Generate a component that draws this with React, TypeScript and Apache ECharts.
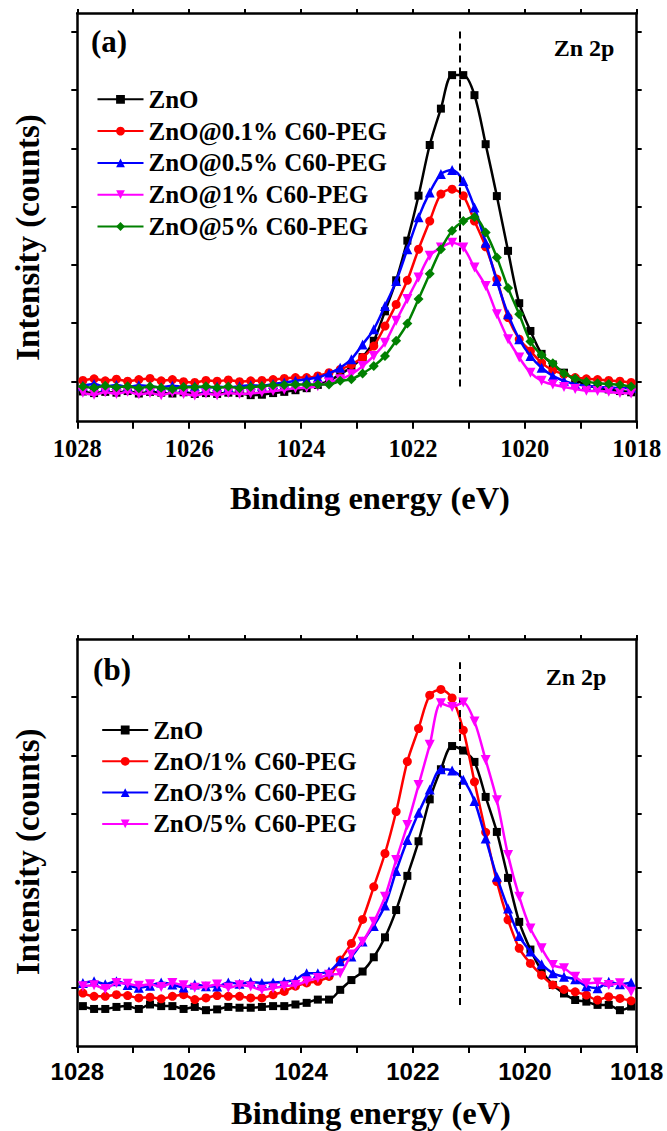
import React, { useEffect, useRef } from "react";
import * as echarts from "echarts";

// Binding energy grid (eV), 0.2 eV steps
const energies = [
  1027.9, 1027.7, 1027.5, 1027.3, 1027.1, 1026.9, 1026.7, 1026.5, 1026.3, 1026.1,
  1025.9, 1025.7, 1025.5, 1025.3, 1025.1, 1024.9, 1024.7, 1024.5, 1024.3, 1024.1,
  1023.9, 1023.7, 1023.5, 1023.3, 1023.1, 1022.9, 1022.7, 1022.5, 1022.3, 1022.1,
  1021.9, 1021.7, 1021.5, 1021.3, 1021.1, 1020.9, 1020.7, 1020.5, 1020.3, 1020.1,
  1019.9, 1019.7, 1019.5, 1019.3, 1019.1, 1018.9, 1018.7, 1018.5, 1018.3, 1018.1,
];

// Panel (a) intensities (arbitrary units, 0 = bottom of frame, 100 = top)
const namesA = ["ZnO", "ZnO@0.1% C60-PEG", "ZnO@0.5% C60-PEG", "ZnO@1% C60-PEG", "ZnO@5% C60-PEG"];
const znoA = [7.4,7.0,7.3,7.1,7.5,6.9,7.3,7.1,6.9,7.2, 6.8,7.0,6.8,7.1,7.0,6.5,6.6,7.0,7.3,7.7, 8.2,9.0,10.0,11.6,13.4,15.8,19.8,27.0,34.6,44.3, 55.3,67.7,76.6,84.8,84.8,79.9,67.9,55.2,41.8,29.0, 22.2,16.6,14.0,12.0,10.3,9.0,8.3,7.9,7.5,7.2];
const c01A = [10.1,10.5,10.0,10.4,9.9,10.3,10.6,10.0,10.3,9.8, 9.6,10.1,9.9,10.2,9.8,10.0,10.1,10.3,10.6,10.8, 10.8,11.2,12.0,12.8,14.0,15.7,18.5,23.4,28.7,34.6, 42.2,49.1,55.7,56.9,55.3,49.1,42.8,34.9,25.5,20.2, 17.3,14.4,12.6,11.6,10.8,10.5,10.3,10.1,9.9,9.6];
const c05A = [8.8,9.2,8.6,9.0,8.5,8.9,8.7,8.4,8.8,8.5, 8.7,8.3,8.6,8.4,8.7,8.9,8.8,9.2,9.6,10.0, 10.4,10.8,11.8,13.2,15.3,18.9,22.6,28.3,34.4,42.2, 50.0,56.1,60.6,61.6,58.9,52.4,43.8,34.4,26.3,20.2, 16.1,13.2,11.2,10.0,9.2,8.8,8.5,8.4,8.2,8.3];
const c1A = [7.1,6.6,7.2,6.8,7.3,6.7,7.0,6.5,7.1,6.8, 6.4,6.9,6.5,7.0,6.8,6.9,7.2,7.5,7.8,8.2, 8.3,8.7,9.6,10.4,11.6,13.6,16.1,19.3,24.7,30.0, 35.3,40.6,42.6,43.8,42.6,37.7,33.2,26.3,20.2,15.7, 12.0,10.0,9.1,8.5,8.0,7.6,7.5,7.3,7.0,6.9];
const c5A = [8.6,8.3,8.8,8.4,8.7,8.2,8.6,8.3,8.0,8.5, 8.4,8.7,8.3,8.6,8.2,8.5,8.7,8.9,9.0,9.1, 9.1,9.1,9.1,10.0,10.4,11.8,13.6,16.1,19.8,24.0, 30.0,36.2,42.2,46.7,49.1,50.1,46.3,40.2,32.7,26.3, 19.6,16.3,14.3,11.8,10.6,9.8,9.4,9.2,9.0,8.6];

// Panel (b) intensities
const namesB = ["ZnO", "ZnO/1% C60-PEG", "ZnO/3% C60-PEG", "ZnO/5% C60-PEG"];
const znoB = [9.8,9.1,9.1,9.6,9.8,9.1,10.2,9.8,9.8,9.1, 9.6,8.8,9.0,9.6,9.4,9.4,9.6,9.8,9.8,10.2, 10.6,11.4,11.4,13.8,16.2,18.3,21.8,26.7,33.4,41.8, 50.3,60.6,68.0,73.7,72.6,69.8,61.2,52.6,41.3,30.5, 23.7,18.5,15.0,12.9,11.3,10.9,10.1,10.1,8.8,9.7];
const c1B = [13.0,12.2,12.2,12.6,12.4,11.8,12.0,11.6,12.2,12.6, 11.4,11.8,12.4,12.2,12.2,11.8,11.8,12.6,13.4,14.7, 15.5,15.9,17.1,21.1,25.2,31.1,39.1,47.3,57.6,69.9, 78.0,86.2,87.6,85.5,77.6,64.9,52.5,40.4,31.0,24.0, 20.3,17.4,15.0,13.9,13.3,12.5,11.3,12.1,11.7,11.1];
const c3B = [15.5,15.9,15.2,15.9,15.0,14.3,14.8,15.6,15.1,14.4, 15.1,14.7,14.6,15.6,15.3,15.7,15.5,15.6,15.8,16.3, 17.9,17.9,18.3,20.8,22.0,25.7,29.5,34.5,43.0,50.6, 57.3,63.0,68.0,67.7,65.4,60.2,51.0,41.6,33.8,27.0, 23.2,20.1,17.9,17.0,16.4,14.7,14.2,15.8,15.2,15.6];
const c5B = [14.7,14.9,14.0,15.5,15.3,14.8,15.2,14.5,15.5,14.9, 14.3,14.6,15.1,14.3,14.9,14.6,13.8,14.2,14.7,15.0, 15.9,16.7,17.5,17.9,22.5,25.6,30.5,36.7,45.7,54.3, 64.1,74.0,84.2,83.3,84.4,79.7,70.3,60.4,46.9,36.7, 28.9,24.0,19.9,19.1,17.0,15.4,15.6,15.0,15.4,13.3];

// Axis ticks / labels
const xLabelValues = [1028, 1026, 1024, 1022, 1020, 1018];
const yTicksA = [9.8, 24.1, 38.3, 52.6, 66.9, 81.2, 95.4];
const yTicksB = [14.3, 28.6, 42.9, 57.1, 71.4, 85.7];

// Reference (dashed) line
const refEnergy = 1021.17;
const refRangeA = [8.6, 96.6];
const refRangeB = [10.1, 94.3];

const colors = ["#000000", "#ff0000", "#0000ff", "#ff00ff", "#008000"];
const symbols = ["rect", "circle", "triangle", "triangle", "diamond"];
const symbolSizes = [8, 9, 10, 10, 10];
const symbolRotates = [0, 0, 0, 180, 0];

const SERIF = '"Liberation Serif", "Times New Roman", serif';
const SANS = '"Liberation Sans", Arial, sans-serif';

function buildOption(cfg: any) {
  const series = cfg.names.map((name: string, k: number) => {
    const s: any = {
      type: "line",
      name,
      data: energies.map((e, i) => [e, cfg.values[k][i]]),
      symbol: symbols[k],
      symbolSize: symbolSizes[k],
      symbolRotate: symbolRotates[k],
      smooth: 0.3,
      color: colors[k],
      lineStyle: { width: 2.5, color: colors[k] },
      itemStyle: { color: colors[k] },
      z: 2 + k,
    };
    if (k === 0) {
      s.markLine = {
        silent: true,
        symbol: ["none", "none"],
        label: { show: false },
        lineStyle: { color: "#000", width: 2, type: [7, 5] },
        data: [[{ coord: [refEnergy, cfg.refRange[0]] }, { coord: [refEnergy, cfg.refRange[1]] }]],
      };
    }
    return s;
  });

  const axisLine = { show: true, onZero: false, lineStyle: { color: "#000", width: 2.5 } };
  const tickStyle = { color: "#000", width: 2 };
  const xBase = {
    type: "value",
    min: 1018,
    max: 1028,
    interval: 1,
    inverse: true,
    splitLine: { show: false },
    axisLine,
  };
  const yBase = {
    type: "value",
    min: 0,
    max: 100,
    splitLine: { show: false },
    axisLine,
    axisLabel: { show: false },
  };

  return {
    animation: false,
    backgroundColor: "#ffffff",
    grid: { left: 77.3, top: cfg.gridTop, width: 559.4, height: cfg.gridHeight, containLabel: false },
    xAxis: [
      {
        ...xBase,
        position: "bottom",
        axisTick: { show: true, inside: false, length: 7, lineStyle: tickStyle },
        axisLabel: {
          show: true,
          customValues: xLabelValues,
          formatter: (v: number) => String(Math.round(v)),
          margin: cfg.labelMargin,
          color: "#000",
          fontSize: cfg.tickFontSize,
          fontWeight: "bold",
          fontFamily: cfg.tickFont,
        },
      },
      {
        ...xBase,
        position: "top",
        axisTick: { show: true, inside: false, length: 4, lineStyle: tickStyle },
        axisLabel: { show: false },
      },
    ],
    yAxis: [
      {
        ...yBase,
        position: "left",
        axisTick: { show: true, inside: false, length: 6, customValues: cfg.yTicks, lineStyle: tickStyle },
      },
      {
        ...yBase,
        position: "right",
        axisTick: { show: true, inside: false, length: 5, customValues: cfg.yTicks, lineStyle: tickStyle },
      },
    ],
    legend: {
      show: true,
      orient: "vertical",
      left: cfg.legendLeft,
      top: cfg.legendTop,
      padding: 0,
      itemWidth: 46,
      itemHeight: 11,
      itemGap: cfg.legendGap,
      selectedMode: false,
      data: cfg.names,
      textStyle: {
        color: "#000",
        fontSize: 25,
        lineHeight: 25,
        fontWeight: "bold",
        fontFamily: SERIF,
      },
    },
    graphic: [
      {
        type: "text",
        x: cfg.tag.x,
        y: cfg.tag.y,
        style: { text: cfg.tag.text, align: "center", verticalAlign: "middle", fill: "#000", fontSize: 31, fontWeight: "bold", fontFamily: SERIF },
      },
      {
        type: "text",
        x: cfg.zn.x,
        y: cfg.zn.y,
        style: { text: "Zn 2p", align: "center", verticalAlign: "middle", fill: "#000", fontSize: 24, fontWeight: "bold", fontFamily: SERIF },
      },
      {
        type: "text",
        x: cfg.xTitle.x,
        y: cfg.xTitle.y,
        style: { text: "Binding energy (eV)", align: "center", verticalAlign: "middle", fill: "#000", fontSize: 32.5, fontWeight: "bold", fontFamily: SERIF },
      },
      {
        type: "text",
        x: cfg.yTitle.x,
        y: cfg.yTitle.y,
        rotation: Math.PI / 2,
        style: { text: "Intensity (counts)", align: "center", verticalAlign: "middle", fill: "#000", fontSize: 33, fontWeight: "bold", fontFamily: SERIF },
      },
    ],
    series,
  };
}

const cfgA = {
  names: namesA,
  values: [znoA, c01A, c05A, c1A, c5A],
  refRange: refRangeA,
  gridTop: 13,
  gridHeight: 408.7,
  yTicks: yTicksA,
  labelMargin: 14,
  tickFontSize: 24.5,
  tickFont: SERIF,
  legendLeft: 96.5,
  legendTop: 86.8,
  legendGap: 6.8,
  tag: { text: "(a)", x: 109, y: 41.5 },
  zn: { x: 584, y: 47.5 },
  xTitle: { x: 370, y: 498.3 },
  yTitle: { x: 27.7, y: 237.5 },
};

const OFFSET_B = 566;
const cfgB = {
  names: namesB,
  values: [znoB, c1B, c3B, c5B],
  refRange: refRangeB,
  gridTop: 639 - OFFSET_B,
  gridHeight: 407,
  yTicks: yTicksB,
  labelMargin: 13,
  tickFontSize: 24,
  tickFont: SANS,
  legendLeft: 101.2,
  legendTop: 730 - 12.5 - OFFSET_B,
  legendGap: 6.3,
  tag: { text: "(b)", x: 112, y: 669 - OFFSET_B },
  zn: { x: 576, y: 677 - OFFSET_B },
  xTitle: { x: 371, y: 1112.5 - OFFSET_B },
  yTitle: { x: 27.7, y: 851.7 - OFFSET_B },
};

function Panel({ cfg, top, height }: { cfg: any; top: number; height: number }) {
  const ref = useRef<HTMLDivElement>(null);
  useEffect(() => {
    if (!ref.current) return;
    const chart = echarts.init(ref.current, undefined, { renderer: "svg" });
    chart.setOption(buildOption(cfg));
    return () => chart.dispose();
  }, [cfg]);
  return (
    <div
      ref={ref}
      style={{ position: "absolute", left: 0, top, width: 667, height }}
    />
  );
}

export default function App() {
  useEffect(() => {
    document.body.style.margin = "0";
  }, []);
  return (
    <div style={{ position: "absolute", left: 0, top: 0, width: 667, height: 1131, background: "#fff" }}>
      <Panel cfg={cfgA} top={0} height={OFFSET_B} />
      <Panel cfg={cfgB} top={OFFSET_B} height={1131 - OFFSET_B} />
    </div>
  );
}
